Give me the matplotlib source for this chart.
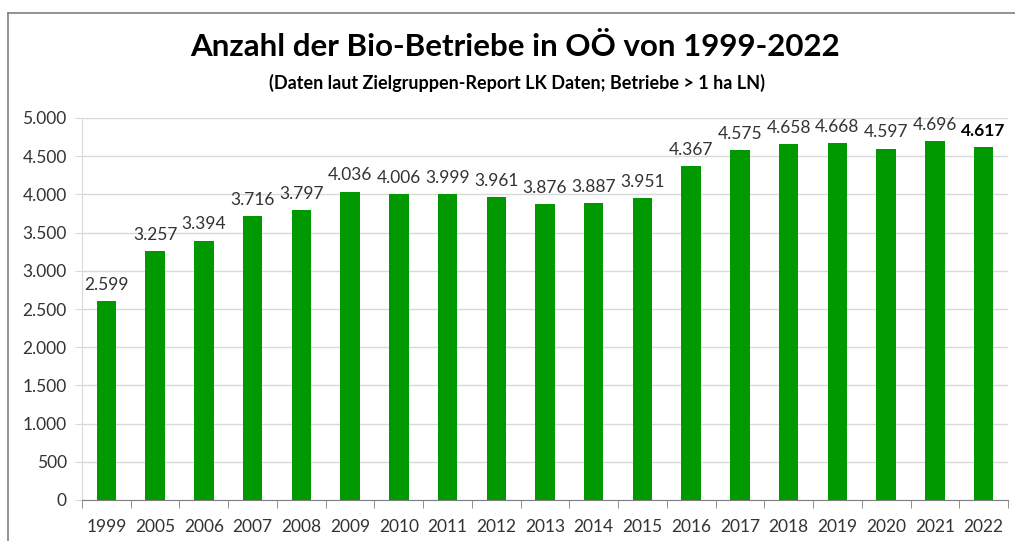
import matplotlib
matplotlib.use("Agg")
import matplotlib.pyplot as plt
from matplotlib.ticker import FuncFormatter, MultipleLocator
from matplotlib.lines import Line2D

years = ["1999", "2005", "2006", "2007", "2008", "2009", "2010", "2011", "2012", "2013",
         "2014", "2015", "2016", "2017", "2018", "2019", "2020", "2021", "2022"]
betriebe = [2599, 3257, 3394, 3716, 3797, 4036, 4006, 3999, 3961, 3876,
            3887, 3951, 4367, 4575, 4658, 4668, 4597, 4696, 4617]

title = "Anzahl der Bio-Betriebe in OÖ von 1999-2022"
subtitle = "(Daten laut Zielgruppen-Report LK Daten; Betriebe > 1 ha LN)"

plt.rcParams['font.family'] = ['Lato', 'DejaVu Sans']

fig = plt.figure(figsize=(10.15, 5.41), dpi=100)
ax = fig.add_axes([82/1015, 1-500/541, (1008-82)/1015, (500-118)/541])

def de_fmt(v, pos=None):
    return f"{int(round(v)):,}".replace(",", ".")

x = list(range(len(years)))
ax.bar(x, betriebe, width=0.4, color="#009900", zorder=3)

ax.set_xlim(-0.5, len(years) - 0.5)
ax.set_ylim(0, 5000)
ax.yaxis.set_major_locator(MultipleLocator(500))
ax.yaxis.set_major_formatter(FuncFormatter(de_fmt))
ax.grid(axis="y", color="#d9d9d9", linewidth=1, zorder=0)
ax.set_axisbelow(True)

for s in ["top", "right"]:
    ax.spines[s].set_visible(False)
ax.spines["left"].set_color("#d9d9d9")
ax.spines["bottom"].set_color("#7f7f7f")

ax.set_xticks(x)
ax.set_xticklabels(years)
ax.set_xticks([i - 0.5 for i in range(len(years) + 1)], minor=True)
ax.tick_params(axis="x", which="major", length=0, pad=14, labelsize=12.5, labelcolor="#333333")
ax.tick_params(axis="x", which="minor", length=6, color="#7f7f7f", direction="out")
ax.tick_params(axis="y", length=5, color="#d9d9d9", labelsize=12.5, labelcolor="#333333", pad=6)

for i, v in enumerate(betriebe):
    last = i == len(betriebe) - 1
    ax.annotate(de_fmt(v), (i, v), xytext=(0, 6), textcoords="offset points",
                ha="center", va="bottom", fontsize=12.5, color="#000000" if last else "#333333",
                fontweight="bold" if last else "normal")

fig.text(515/1015, 1-47/541, title, ha="center", va="center", fontsize=22.5, fontweight="bold", color="#000000")
fig.text(517/1015, 1-83/541, subtitle, ha="center", va="center", fontsize=13, fontweight="bold", color="#000000")

fig.add_artist(Line2D([8/1015, 8/1015], [0, 1-13/541], transform=fig.transFigure, color="#808080", linewidth=1.2))
fig.add_artist(Line2D([8/1015, 1], [1-13/541, 1-13/541], transform=fig.transFigure, color="#808080", linewidth=1.2))

fig.savefig("out.png", dpi=100)
